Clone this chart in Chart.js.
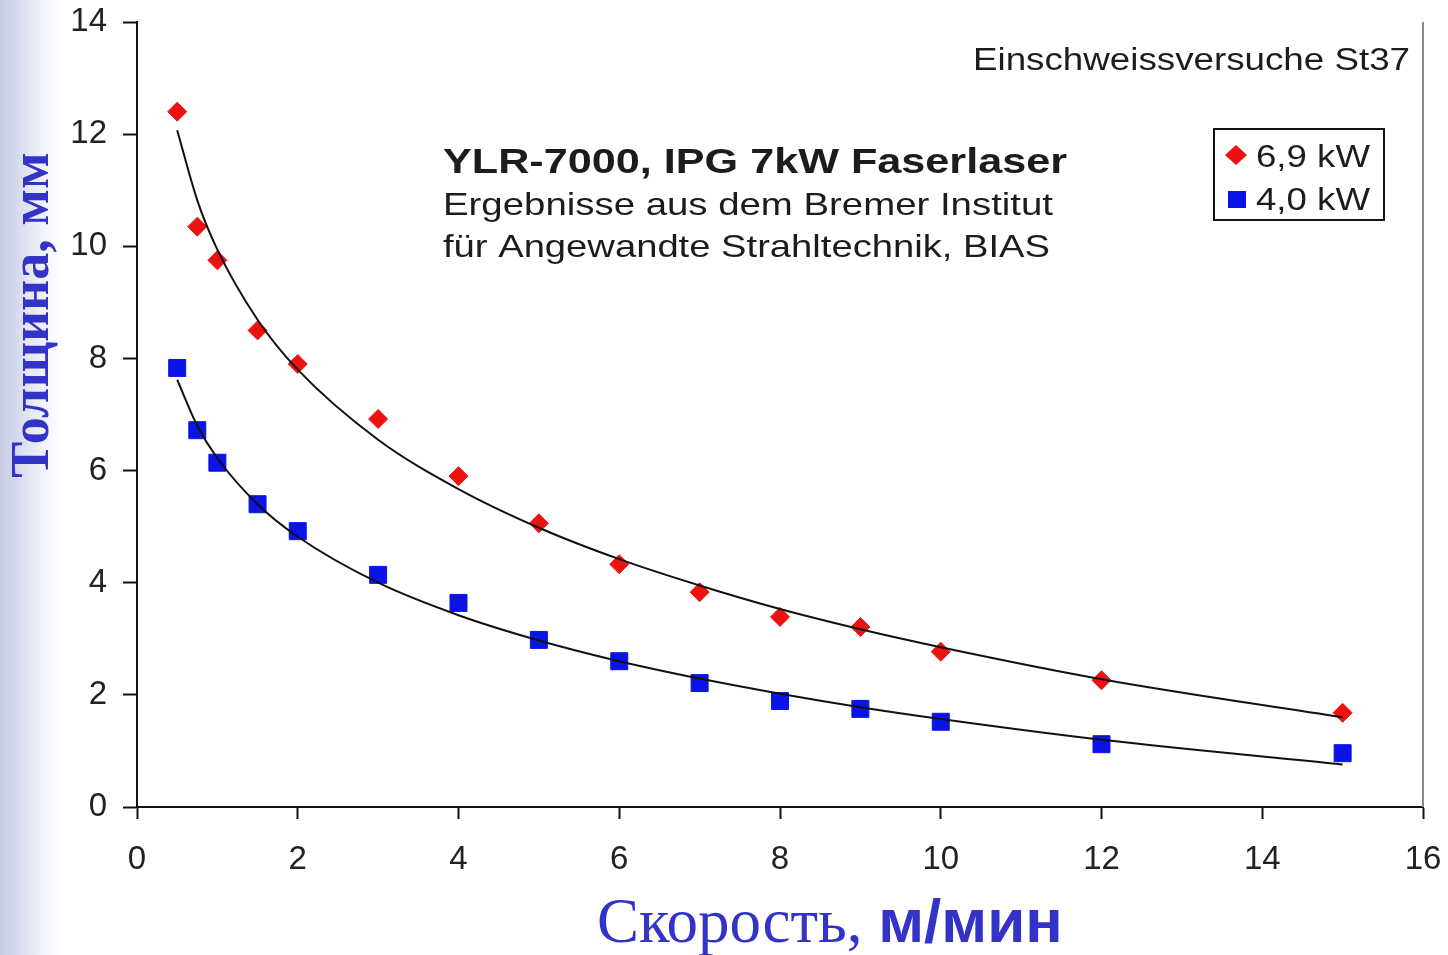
<!DOCTYPE html>
<html lang="ru">
<head>
    <meta charset="UTF-8">
    <title>Толщина и скорость сварки</title>
    <script src="https://cdn.jsdelivr.net/npm/chart.js"></script>
    <style>
        html, body {
            margin: 0;
            padding: 0;
        }
        body {
            width: 1448px;
            height: 955px;
            overflow: hidden;
            /* светлая полоса слева, как на слайде */
            background: linear-gradient(to right, #c6cae6 0px, #dfe2f2 25px, #f6f7fc 48px, #ffffff 62px);
        }
        #wrap {
            position: absolute;
            left: 0;
            top: 0;
            width: 1448px;
            height: 955px;
        }
    </style>
</head>
<body>
    <div id="wrap">
        <canvas id="weldChart" width="1448" height="955"></canvas>
    </div>

    <script>
        // скорость, м/мин
        const speeds = [0.5, 0.75, 1, 1.5, 2, 3, 4, 5, 6, 7, 8, 9, 10, 12, 15];
        // толщина, мм
        const thick69 = [12.4, 10.35, 9.75, 8.5, 7.9, 6.92, 5.9, 5.06, 4.33, 3.83, 3.39, 3.21, 2.77, 2.26, 1.68];
        const thick40 = [7.83, 6.72, 6.14, 5.4, 4.92, 4.14, 3.64, 2.98, 2.6, 2.21, 1.89, 1.75, 1.52, 1.12, 0.96];

        // линии тренда
        const trendX = [0.5, 0.75, 1, 1.5, 2, 3, 4, 5, 6, 7, 8, 9, 10, 12, 15];
        const trend69 = [12.07, 10.82, 9.94, 8.69, 7.8, 6.55, 5.67, 4.98, 4.42, 3.95, 3.53, 3.17, 2.85, 2.28, 1.6];
        const trend40 = [7.62, 6.8, 6.22, 5.4, 4.82, 4.0, 3.42, 2.97, 2.6, 2.29, 2.02, 1.78, 1.57, 1.2, 0.76];

        const xTicks = [0, 2, 4, 6, 8, 10, 12, 14, 16];
        const yTicks = [0, 2, 4, 6, 8, 10, 12, 14];

        const seriesLabels = ['6,9 kW', '4,0 kW'];
        const titleLines = [
            'YLR-7000, IPG 7kW Faserlaser',
            'Ergebnisse aus dem Bremer Institut',
            'für Angewandte Strahltechnik, BIAS'
        ];
        const cornerNote = 'Einschweissversuche St37';

        const SANS = '"Liberation Sans", Arial, sans-serif';
        const SERIF = '"Liberation Serif", "Times New Roman", serif';
        const BLUE_TEXT = '#3333c8';

        const toXY = (xs, ys) => xs.map((x, i) => ({ x: x, y: ys[i] }));

        // текст заданного кегля, растянутый до нужной ширины
        function fitText(ctx, text, x, y, width, font) {
            ctx.save();
            ctx.font = font;
            const k = width / ctx.measureText(text).width;
            ctx.translate(x, y);
            ctx.scale(k, 1);
            ctx.fillText(text, 0, 0);
            ctx.restore();
        }

        const overlay = {
            id: 'overlay',
            afterDraw(chart) {
                const ctx = chart.ctx;
                const area = chart.chartArea;
                ctx.save();

                // правая серая рамка
                ctx.strokeStyle = '#8a8a8a';
                ctx.lineWidth = 2;
                ctx.beginPath();
                ctx.moveTo(area.right, area.top);
                ctx.lineTo(area.right, area.bottom);
                ctx.stroke();

                // надписи в поле графика
                ctx.fillStyle = '#1c1c1c';
                ctx.textAlign = 'left';
                ctx.textBaseline = 'alphabetic';
                fitText(ctx, cornerNote, 973, 70, 437, 'normal 31px ' + SANS);
                fitText(ctx, titleLines[0], 443, 173, 624, 'bold 35px ' + SANS);
                fitText(ctx, titleLines[1], 443, 215, 610, 'normal 32px ' + SANS);
                fitText(ctx, titleLines[2], 443, 257, 607, 'normal 32px ' + SANS);

                // легенда
                ctx.strokeStyle = '#111';
                ctx.lineWidth = 2;
                ctx.strokeRect(1214, 129, 170, 91);
                ctx.fillStyle = '#ee1111';
                ctx.beginPath();
                ctx.moveTo(1236, 145);
                ctx.lineTo(1247, 155);
                ctx.lineTo(1236, 165);
                ctx.lineTo(1225, 155);
                ctx.closePath();
                ctx.fill();
                ctx.fillStyle = '#0a14e6';
                ctx.fillRect(1228, 191, 18, 17);
                ctx.fillStyle = '#1c1c1c';
                fitText(ctx, seriesLabels[0], 1256, 167, 114, 'normal 31px ' + SANS);
                fitText(ctx, seriesLabels[1], 1256, 210, 114, 'normal 31px ' + SANS);

                // подписи осей
                ctx.fillStyle = BLUE_TEXT;
                ctx.save();
                ctx.translate(48, 315);
                ctx.rotate(-Math.PI / 2);
                ctx.textAlign = 'center';
                ctx.font = 'bold 54px ' + SERIF;
                ctx.fillText('Толщина, мм', 0, 0);
                ctx.restore();

                ctx.textAlign = 'left';
                ctx.font = 'normal 63px ' + SERIF;
                const part1 = 'Скорость, ';
                ctx.fillText(part1, 597, 942);
                const w1 = ctx.measureText(part1).width;
                ctx.font = 'bold 62px ' + SANS;
                ctx.fillText('м/мин', 597 + w1, 942);

                ctx.restore();
            }
        };

        const tickFont = { family: SANS, size: 33 };

        const ctx = document.getElementById('weldChart').getContext('2d');
        const weldChart = new Chart(ctx, {
            type: 'scatter',
            data: {
                datasets: [
                    {
                        type: 'line',
                        label: 'trend 6,9',
                        data: toXY(trendX, trend69),
                        borderColor: '#111',
                        borderWidth: 2,
                        pointRadius: 0,
                        fill: false,
                        cubicInterpolationMode: 'monotone'
                    },
                    {
                        type: 'line',
                        label: 'trend 4,0',
                        data: toXY(trendX, trend40),
                        borderColor: '#111',
                        borderWidth: 2,
                        pointRadius: 0,
                        fill: false,
                        cubicInterpolationMode: 'monotone'
                    },
                    {
                        label: seriesLabels[0],
                        data: toXY(speeds, thick69),
                        pointStyle: 'rectRot',
                        pointRadius: 9.5,
                        backgroundColor: '#ee1111',
                        borderColor: '#ee1111',
                        borderWidth: 1
                    },
                    {
                        label: seriesLabels[1],
                        data: toXY(speeds, thick40),
                        pointStyle: 'rect',
                        pointRadius: 12,
                        backgroundColor: '#0a14e6',
                        borderColor: '#0a14e6',
                        borderWidth: 1
                    }
                ]
            },
            options: {
                responsive: false,
                animation: false,
                devicePixelRatio: 1,
                layout: {
                    padding: { left: 0, top: 22, right: 25, bottom: 68 }
                },
                scales: {
                    x: {
                        type: 'linear',
                        min: 0,
                        max: 16,
                        afterBuildTicks: (scale) => { scale.ticks = xTicks.map(v => ({ value: v })); },
                        afterFit: (scale) => {
                            scale.height = 80;
                            scale.paddingLeft = 0;
                            scale.paddingRight = 0;
                        },
                        grid: {
                            drawOnChartArea: false,
                            drawTicks: true,
                            tickLength: 12,
                            tickWidth: 2,
                            tickColor: '#111'
                        },
                        border: { color: '#111', width: 2 },
                        ticks: {
                            color: '#222',
                            font: tickFont,
                            padding: 21,
                            maxRotation: 0
                        }
                    },
                    y: {
                        type: 'linear',
                        min: 0,
                        max: 14,
                        afterBuildTicks: (scale) => { scale.ticks = yTicks.map(v => ({ value: v })); },
                        afterFit: (scale) => {
                            scale.width = 137;
                            scale.paddingTop = 0;
                            scale.paddingBottom = 0;
                        },
                        grid: {
                            drawOnChartArea: false,
                            drawTicks: true,
                            tickLength: 14,
                            tickWidth: 2,
                            tickColor: '#111'
                        },
                        border: { color: '#111', width: 2 },
                        ticks: {
                            color: '#222',
                            font: tickFont,
                            padding: 16
                        }
                    }
                },
                plugins: {
                    legend: { display: false },
                    tooltip: { enabled: false }
                }
            },
            plugins: [overlay]
        });
    </script>
</body>
</html>
